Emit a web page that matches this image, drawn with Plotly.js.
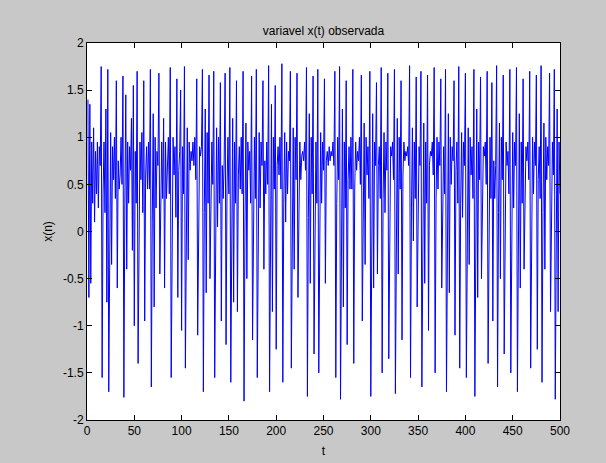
<!DOCTYPE html>
<html>
<head>
<meta charset="utf-8">
<script src="https://cdn.plot.ly/plotly-3.0.1.min.js"></script>
<style>
html,body{margin:0;padding:0;background:#c8c8c8;}
#chart{width:606px;height:463px;}
</style>
</head>
<body>
<div id="chart"></div>
<script>
const block1 = [1.40,-0.70,1.35,-0.55,0.95,0.30,1.10,0.10,0.85,0.40,0.95,0.25,0.90,0.70,1.75,-1.55,0.40,0.95,0.20,1.30,-0.75,1.72,-1.70,0.15,1.05,-0.35,0.90,0.55,1.00,0.35,1.60,-0.60,0.75,0.45,0.60,1.00,0.50,1.65,-1.76,0.30,1.45,-0.40,0.95,0.30,0.90,0.65,1.20,-0.20,1.55,-1.00];
const block2 = [0.85,0.30,1.70,-1.40,0.25,0.95,0.55,1.05,0.20,1.60,-0.95,0.60,0.90,0.45,0.95,0.45,1.72,-1.65,0.10,1.25,-0.80,1.00,0.25,0.85,0.70,1.68,-0.45,0.50,0.95,0.35,1.20,-0.60,0.95,0.35,0.80,1.00,0.40,1.74,-1.55,0.30,1.00,0.60,0.90,0.15,1.62,-0.70,0.65,0.85,1.50,-1.05];
const block3 = [0.90,0.40,1.75,-1.45,0.35,1.10,-0.30,0.95,0.65,0.85,0.75,0.95,0.70,1.00,0.55,1.62,-1.10,0.55,0.90,0.80,0.90,1.72,-1.70,0.20,1.30,-0.65,1.05,0.30,1.66,-0.50,0.55,0.95,0.50,1.70,-1.55,0.25,1.10,0.05,1.00,0.30,1.58,-0.95,0.70,0.35,0.75,1.68,-1.20,0.45,1.00,0.40];
const block4 = [1.74,-1.60,0.15,1.20,-0.75,0.95,0.30,1.60,-0.85,0.60,0.90,0.45,1.00,0.40,1.70,-1.80,0.10,1.15,-0.50,0.95,0.65,0.85,0.30,1.65,-1.15,0.55,1.00,0.35,1.72,-1.55,0.30,1.05,0.25,0.95,0.70,1.60,-0.40,0.75,0.40,0.95,0.50,1.76,-1.70,0.05,1.35,-0.85,1.00,0.45,1.55,-1.25];
const block5 = [0.70,0.90,0.60,1.00,0.45,1.78,-1.60,0.30,1.05,0.10,0.95,0.40,0.85,0.75,1.70,-1.45,0.35,1.10,-0.40,1.00,0.55,1.68,-0.70,0.60,0.95,0.55,0.80,0.85,0.75,0.95,0.65,1.74,-1.75,0.15,1.25,-0.55,1.00,0.40,1.65,-1.30,0.50,0.95,0.30,1.72,-1.50,0.25,1.05,0.30,0.95,0.65];
const block6 = [1.62,-0.55,0.75,0.85,0.70,0.90,0.75,0.85,0.80,0.95,0.70,1.70,-1.55,0.30,1.00,0.55,1.75,-1.78,0.05,1.30,-0.80,0.95,0.25,1.60,-1.20,0.55,0.90,0.45,1.00,0.45,1.72,-1.40,0.45,0.95,0.65,0.85,0.75,1.00,0.50,1.66,-0.95,0.20,1.15,-0.35,1.00,0.60,0.90,0.35,1.70,-1.75];
const block7 = [0.15,1.25,-0.60,0.95,0.70,1.58,-0.45,0.70,0.90,0.35,1.74,-1.50,0.35,1.05,0.20,0.95,0.65,1.68,-1.35,0.50,0.90,0.80,0.95,0.55,1.72,-1.72,0.10,1.20,-0.45,1.00,0.45,1.60,-1.15,0.60,0.95,0.75,0.85,0.80,0.90,0.70,1.76,-1.55,0.25,1.10,-0.10,0.95,0.35,1.64,-0.80,0.55];
const block8 = [0.90,0.70,1.70,-1.65,0.20,1.15,-0.55,0.95,0.30,1.66,-1.05,0.70,0.85,0.80,0.95,0.60,1.74,-1.50,0.35,1.00,0.45,0.95,0.70,1.62,-0.60,0.50,0.90,0.40,1.72,-1.70,0.10,1.25,-0.65,1.00,0.50,0.90,0.75,1.60,-1.10,0.65,0.95,0.30,1.75,-1.45,0.30,1.05,0.15,0.95,0.70,1.68];
const block9 = [-1.55,0.25,1.10,-0.35,1.00,0.60,0.90,0.35,1.72,-1.75,0.05,1.30,-0.70,0.95,0.55,1.64,-0.50,0.60,0.90,0.80,0.95,0.50,1.70,-1.40,0.40,1.00,0.35,1.58,-0.95,0.75,0.35,0.70,1.76,-1.65,0.20,1.15,-0.50,1.00,0.55,1.66,-1.30,0.55,0.95,0.70,0.85,0.40,1.72,-1.50,0.30,1.05];
const block10 = [0.25,0.95,0.70,1.74,-1.70,0.10,1.25,-0.60,0.95,0.30,1.62,-0.40,0.65,0.90,0.75,0.95,0.55,1.70,-1.45,0.35,1.00,0.40,0.95,0.70,1.66,-1.25,0.55,0.90,0.35,1.76,-1.60,0.20,1.15,-0.40,1.00,0.55,0.90,0.70,1.68,-0.85,0.50,0.95,0.60,1.72,-1.78,0.15,1.30,-0.85,0.95,0.40];

const xValues = [].concat(block1, block2, block3, block4, block5, block6, block7, block8, block9, block10);
const tValues = xValues.map((v, i) => i + 1);

const xTicks = [0, 50, 100, 150, 200, 250, 300, 350, 400, 450, 500];
const yTicks = [-2, -1.5, -1, -0.5, 0, 0.5, 1, 1.5, 2];
const yTickText = ['-2', '-1.5', '-1', '-0.5', '0', '0.5', '1', '1.5', '2'];

const font = {family: 'Liberation Sans, Arial, sans-serif', size: 12, color: '#000'};

const trace = {
  x: tValues, y: xValues, type: 'scatter', mode: 'lines',
  line: {color: '#0000ff', width: 1}, hoverinfo: 'skip'
};

const axisCommon = {
  showline: true, linecolor: '#000', linewidth: 1, mirror: 'ticks',
  ticks: 'inside', ticklen: 5, tickcolor: '#000', showgrid: false, zeroline: false,
  tickfont: font
};

const layout = {
  width: 606, height: 463,
  paper_bgcolor: '#c8c8c8', plot_bgcolor: '#ffffff',
  margin: {l: 87, r: 46, t: 43, b: 43},
  showlegend: false,
  font: font,
  title: {text: 'variavel x(t) observada', font: font, x: 0.5 + (87 - 46) / 2 / 606, xanchor: 'center', y: 1 - 31 / 463, yanchor: 'middle', yref: 'container'},
  xaxis: Object.assign({}, axisCommon, {range: [0, 500], tickvals: xTicks, ticktext: xTicks.map(String), title: {text: 't', font: font, standoff: 9}}),
  yaxis: Object.assign({}, axisCommon, {range: [-2, 2], tickvals: yTicks, ticktext: yTickText, title: {text: 'x(n)', font: font, standoff: 7}})
};

Plotly.newPlot('chart', [trace], layout, {displayModeBar: false, staticPlot: true});
</script>
</body>
</html>
